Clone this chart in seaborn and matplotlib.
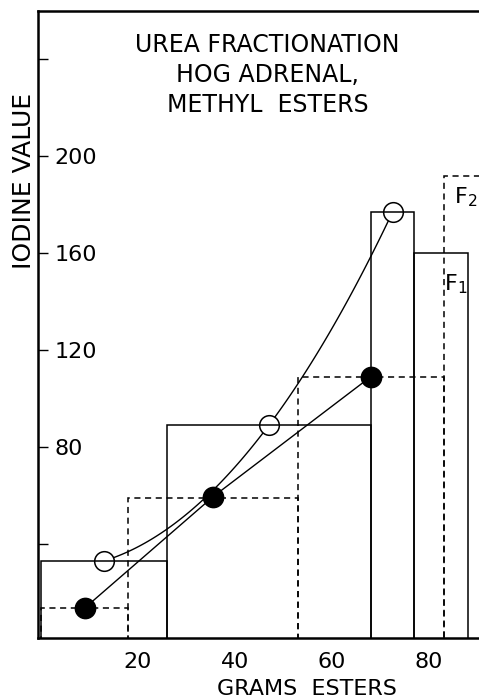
import matplotlib
matplotlib.use("Agg")
import matplotlib.pyplot as plt
import numpy as np
import pandas as pd
import seaborn as sns

# fractions F1 (solid outline) : left edge, width, iodine value
f1_left = [0, 26, 68, 77]
f1_width = [26, 42, 9, 11]
f1_iv = [33, 89, 177, 160]

# fractions F2 (dashed outline)
f2_left = [0, 18, 53, 83]
f2_width = [18, 35, 30, 10]
f2_iv = [13.5, 59, 109, 192]

# open circles (smooth curve) and filled circles (straight segments)
open_x = [13, 47, 72.5]
open_y = [33, 89, 177]
filled_x = [9, 35.5, 68]
filled_y = [13.5, 59.5, 109]

y_ticks = [40, 80, 120, 160, 200, 240]
y_tick_labels = ["", "80", "120", "160", "200", ""]
x_ticks = [20, 40, 60, 80]

sns.set_theme(style="white")
plt.rcParams["font.family"] = ["DejaVu Sans"]
plt.rcParams["text.color"] = "black"
plt.rcParams["axes.labelcolor"] = "black"
plt.rcParams["xtick.color"] = "black"
plt.rcParams["ytick.color"] = "black"

fig = plt.figure(figsize=(4.79, 6.98), dpi=100)
ax = fig.add_axes([0.0793, 0.086, 0.9207, 0.898])

dash = (0, (4, 3))
ax.bar(f1_left, f1_iv, width=f1_width, align="edge", fill=False,
       edgecolor="black", linewidth=1.1, zorder=4)
ax.bar(f2_left, f2_iv, width=f2_width, align="edge", fill=False,
       edgecolor="black", linewidth=1.1, linestyle=dash, zorder=4)

# curve through the open circles
sns.regplot(x=open_x, y=open_y, order=2, ci=None, scatter=False, truncate=True,
            color="black", line_kws={"linewidth": 1.0, "zorder": 2}, ax=ax)
sns.scatterplot(x=open_x, y=open_y, s=200, color="white", edgecolor="black",
                linewidth=1.1, zorder=3, ax=ax)

df = pd.DataFrame({"x": filled_x, "y": filled_y})
sns.lineplot(data=df, x="x", y="y", color="black", linewidth=1.0, zorder=2, ax=ax)
sns.scatterplot(data=df, x="x", y="y", s=210, color="black", edgecolor="black",
                zorder=3, ax=ax)

ax.set_xlim(-0.6, 90.3)
ax.set_ylim(1.2, 259.8)

ax.set_yticks(y_ticks)
ax.set_yticklabels(y_tick_labels)
ax.set_xticks(x_ticks)
ax.tick_params(axis="y", direction="in", length=7, width=1, pad=-12,
               labelsize=16, left=True, colors="black")
for lbl in ax.get_yticklabels():
    lbl.set_horizontalalignment("left")
ax.tick_params(axis="x", length=0, pad=10, labelsize=16, colors="black")

ax.set_xlabel("GRAMS  ESTERS", fontsize=16, color="black")
ax.set_ylabel("IODINE VALUE", fontsize=18, color="black")
ax.xaxis.set_label_coords(0.61, -0.065)
ax.yaxis.set_label_coords(-0.004, 0.729)

for side in ["left", "top", "bottom"]:
    ax.spines[side].set_linewidth(1.8)
    ax.spines[side].set_color("black")
ax.spines["right"].set_visible(False)

ax.text(0.52, 0.898, "UREA FRACTIONATION\nHOG ADRENAL,\nMETHYL  ESTERS",
        transform=ax.transAxes, ha="center", va="center", fontsize=17,
        linespacing=1.3, color="black")
ax.text(85.2, 183, r"F$_2$", fontsize=16, ha="left", va="center", color="black")
ax.text(83, 147, r"F$_1$", fontsize=16, ha="left", va="center", color="black")

fig.savefig("out.png", dpi=100)
